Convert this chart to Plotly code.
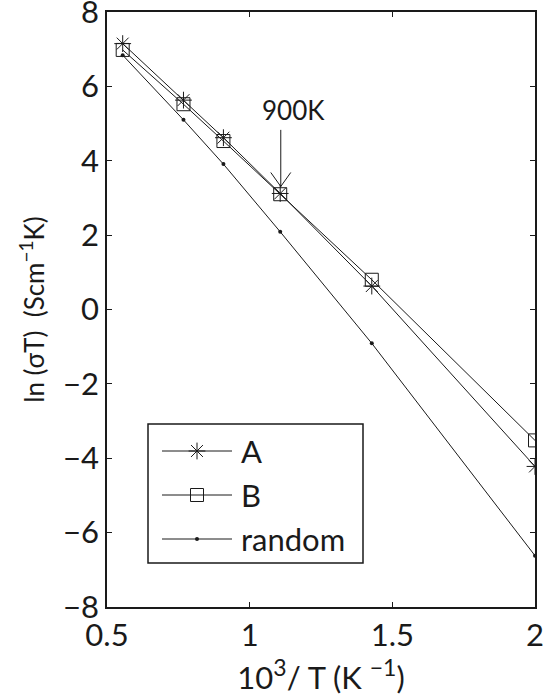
import plotly.graph_objects as go

x_vals = [0.555, 0.768, 0.908, 1.107, 1.428, 2.0]
y_A = [7.15, 5.63, 4.62, 3.12, 0.63, -4.22]
y_B = [6.98, 5.52, 4.53, 3.10, 0.80, -3.52]
y_random = [6.84, 5.10, 3.91, 2.09, -0.91, -6.62]

series_names = ["A", "B", "random"]
x_ticks = [0.5, 1, 1.5, 2]
x_ticklabels = ["0.5", "1", "1.5", "2"]
y_ticks = [-8, -6, -4, -2, 0, 2, 4, 6, 8]

FONT = "Lato"
BLACK = "#1a1a1a"
W, H = 543, 700
ML, MR, MT, MB = 107, 8, 12, 93

styles = [
    dict(symbol="asterisk-open", size=14, color=BLACK, line=dict(color=BLACK, width=1)),
    dict(symbol="square-open", size=13, color=BLACK, line=dict(color=BLACK, width=1)),
    dict(symbol="circle", size=4, color=BLACK, line=dict(width=0)),
]

fig = go.Figure()
for name, ys, mk in zip(series_names, [y_A, y_B, y_random], styles):
    fig.add_trace(go.Scatter(x=x_vals, y=ys, name=name, mode="lines+markers",
                             line=dict(color=BLACK, width=1), marker=mk,
                             showlegend=False))

# Hand-made legend (pixel coordinate overlay axes)
leg_box = dict(x0=148, x1=363, y0=424, y1=563)
leg_rows = [451, 495, 539]
leg_line = [162, 232]
leg_text_x = 239
for name, row, mk in zip(series_names, leg_rows, styles):
    fig.add_trace(go.Scatter(x=leg_line, y=[row, row], mode="lines",
                             line=dict(color=BLACK, width=1), xaxis="x2", yaxis="y2",
                             showlegend=False, hoverinfo="skip"))
    fig.add_trace(go.Scatter(x=[sum(leg_line) / 2], y=[row], mode="markers",
                             marker=mk, xaxis="x2", yaxis="y2",
                             showlegend=False, hoverinfo="skip"))
    fig.add_annotation(x=leg_text_x, y=row, xref="x2", yref="y2", text=name,
                       showarrow=False, xanchor="left", yanchor="middle",
                       font=dict(family=FONT, size=31, color=BLACK))
fig.add_shape(type="rect", xref="x2", yref="y2", **leg_box,
              line=dict(color=BLACK, width=1.5), fillcolor="white", layer="below")

# 900K arrow
arrow_x, arrow_y = 1.109, y_A[3]
fig.add_shape(type="line", xref="x", yref="y", x0=arrow_x, x1=arrow_x, y0=4.83, y1=3.30,
              line=dict(color=BLACK, width=1))
for dx in (-10, 10):
    fig.add_shape(type="line", xref="x", yref="y", xsizemode="pixel", ysizemode="pixel",
                  xanchor=arrow_x, yanchor=arrow_y, x0=0, y0=7, x1=dx, y1=21,
                  line=dict(color=BLACK, width=1))
fig.add_annotation(x=1.152, y=5.37, xref="x", yref="y", text="900K",
                   showarrow=False, font=dict(family=FONT, size=26, color=BLACK))

SUP_X = "<sup><span style='font-size:23px'>{}</span></sup>"
SUP_Y = "<sup><span style='font-size:19px'>{}</span></sup>"

fig.update_layout(
    width=W, height=H,
    margin=dict(l=ML, r=MR, t=MT, b=MB),
    paper_bgcolor="white", plot_bgcolor="white",
    font=dict(family=FONT, color=BLACK, size=28),
    showlegend=False,
    xaxis2=dict(domain=[0, 1], range=[ML, W - MR], overlaying="x", anchor="y2",
                visible=False, fixedrange=True),
    yaxis2=dict(domain=[0, 1], range=[H - MB, MT], overlaying="y", anchor="x2",
                visible=False, fixedrange=True),
)
fig.update_layout(xaxis=dict(
    range=[0.5, 2], tickvals=x_ticks, ticktext=x_ticklabels,
    ticks="inside", ticklen=5, tickwidth=1, tickcolor=BLACK,
    showline=True, linecolor=BLACK, linewidth=1.5, mirror="ticks",
    showgrid=False, zeroline=False, automargin=False, ticklabeloverflow="allow",
    tickfont=dict(family=FONT, size=31),
    title=dict(text="10" + SUP_X.format("3") + "/ T (K " + SUP_X.format("−1") + ")",
               font=dict(family=FONT, size=31), standoff=12)))
fig.update_layout(yaxis=dict(
    range=[-8, 8], tickvals=y_ticks,
    ticks="inside", ticklen=5, tickwidth=1, tickcolor=BLACK,
    showline=True, linecolor=BLACK, linewidth=1.5, mirror="ticks",
    showgrid=False, zeroline=False, automargin=False, ticklabeloverflow="allow",
    tickfont=dict(family=FONT, size=31),
    title=dict(text="ln (σT)&nbsp;&nbsp;(Scm" + SUP_Y.format("−1") + "K)",
               font=dict(family=FONT, size=26), standoff=11)))

fig.write_html("out.html")
